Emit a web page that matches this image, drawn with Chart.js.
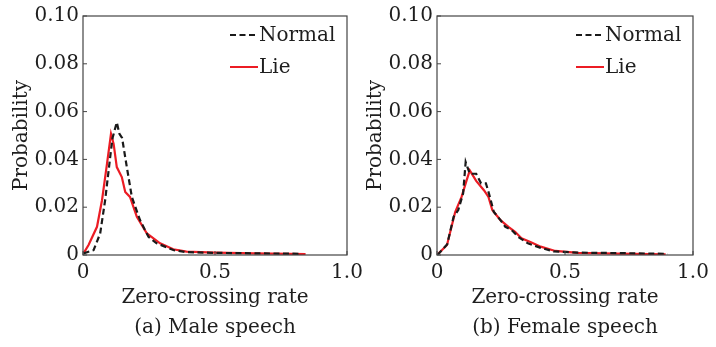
<!DOCTYPE html>
<html>
<head>
<meta charset="utf-8">
<script src="https://cdn.jsdelivr.net/npm/chart.js@4.4.1/dist/chart.umd.min.js"></script>
<style>
    html, body { margin: 0; padding: 0; background: #fff; }
    #wrap { position: relative; width: 716px; height: 347px; overflow: hidden; }
    canvas { position: absolute; top: 0; }
    #male_chart { left: 0; }
    #female_chart { left: 354px; }
</style>
</head>
<body>
<div id="wrap">
    <canvas id="male_chart" width="370" height="347"></canvas>
    <canvas id="female_chart" width="362" height="347"></canvas>
</div>
<script>
// ---------- data ----------
const xTicks = [0, 0.5, 1.0];
const yTicks = [0, 0.02, 0.04, 0.06, 0.08, 0.1];
const seriesNames = ["Normal", "Lie"];

// (a) male speech
const maleNormalX = [0.002, 0.04, 0.065, 0.084, 0.103, 0.112, 0.128, 0.138, 0.148, 0.166, 0.185, 0.216, 0.248, 0.279, 0.342, 0.39, 0.5, 0.65, 0.826];
const maleNormalY = [0.0007, 0.002, 0.009, 0.023, 0.041, 0.049, 0.0555, 0.0507, 0.049, 0.0368, 0.0243, 0.0146, 0.0076, 0.0049, 0.0021, 0.0012, 0.0009, 0.0007, 0.0005];
const maleLieX = [0.002, 0.021, 0.053, 0.072, 0.091, 0.106, 0.116, 0.128, 0.147, 0.16, 0.178, 0.204, 0.242, 0.292, 0.342, 0.392, 0.5, 0.65, 0.843];
const maleLieY = [0.0007, 0.0042, 0.0118, 0.0229, 0.0382, 0.0507, 0.0465, 0.0368, 0.0326, 0.0264, 0.0243, 0.016, 0.009, 0.0049, 0.0024, 0.0014, 0.001, 0.0007, 0.0004];

// (b) female speech
const femaleNormalX = [0.002, 0.04, 0.065, 0.083, 0.102, 0.112, 0.128, 0.153, 0.172, 0.191, 0.203, 0.222, 0.248, 0.267, 0.292, 0.317, 0.355, 0.405, 0.455, 0.55, 0.7, 0.9];
const femaleNormalY = [0, 0.0045, 0.016, 0.0188, 0.0257, 0.0389, 0.034, 0.034, 0.03, 0.03, 0.0257, 0.018, 0.0146, 0.0118, 0.0104, 0.0076, 0.0049, 0.003, 0.0015, 0.001, 0.0008, 0.0005];
const femaleLieX = [0.0, 0.039, 0.071, 0.096, 0.115, 0.128, 0.153, 0.184, 0.201, 0.216, 0.248, 0.279, 0.305, 0.33, 0.367, 0.405, 0.462, 0.55, 0.7, 0.893];
const femaleLieY = [0, 0.0042, 0.018, 0.0243, 0.031, 0.0354, 0.031, 0.027, 0.0243, 0.0188, 0.0146, 0.0118, 0.0097, 0.007, 0.0053, 0.0035, 0.0017, 0.0009, 0.0006, 0.0003];

const FONT = "'DejaVu Serif', serif";
const TEXT = "#1e1e1e";
const RED = "#ec1c24";
const BLACK = "#1a1a1a";

const toPoints = (xs, ys) => xs.map((x, i) => ({ x, y: ys[i] }));

// frame around plot + inward tick marks + legend inside top-right
const framePlugin = {
    id: "frame",
    afterDraw(chart) {
        const { ctx, chartArea: a, scales } = chart;
        ctx.save();
        ctx.strokeStyle = "#444";
        ctx.lineWidth = 1.2;
        ctx.strokeRect(a.left, a.top, a.right - a.left, a.bottom - a.top);

        ctx.lineWidth = 1;
        yTicks.forEach((v) => {
            const py = scales.y.getPixelForValue(v);
            ctx.beginPath();
            ctx.moveTo(a.left, py);
            ctx.lineTo(a.left + 4, py);
            ctx.stroke();
        });
        xTicks.forEach((v) => {
            const px = scales.x.getPixelForValue(v);
            ctx.beginPath();
            ctx.moveTo(px, a.bottom);
            ctx.lineTo(px, a.bottom - 4);
            ctx.stroke();
        });

        // legend
        const ds = chart.data.datasets;
        ctx.font = "20px " + FONT;
        ctx.textBaseline = "middle";
        ctx.fillStyle = TEXT;
        ds.forEach((d, i) => {
            const y = a.top + 19 + i * 32;
            ctx.strokeStyle = d.borderColor;
            ctx.lineWidth = 2;
            ctx.setLineDash(d.borderDash || []);
            ctx.beginPath();
            ctx.moveTo(a.right - 117, y);
            ctx.lineTo(a.right - 89, y);
            ctx.stroke();
            ctx.setLineDash([]);
            ctx.fillText(d.label, a.right - 88, y + 1);
        });
        ctx.restore();
    },
};

const buildChart = (el, caption, normalPts, liePts) =>
    new Chart(el, {
        type: "line",
        data: {
            datasets: [
                {
                    label: seriesNames[0],
                    data: normalPts,
                    borderColor: BLACK,
                    borderWidth: 2.2,
                    borderDash: [6, 3.5],
                    pointRadius: 0,
                    tension: 0,
                },
                {
                    label: seriesNames[1],
                    data: liePts,
                    borderColor: RED,
                    borderWidth: 2.2,
                    pointRadius: 0,
                    tension: 0,
                },
            ],
        },
        options: {
            responsive: false,
            animation: false,
            layout: { padding: { left: 0, right: 23, top: 15, bottom: 0 } },
            plugins: {
                legend: { display: false },
                tooltip: { enabled: false },
            },
            scales: {
                x: {
                    type: "linear",
                    min: 0,
                    max: 1,
                    afterBuildTicks: (s) => {
                        s.ticks = xTicks.map((v) => ({ value: v }));
                    },
                    afterFit: (s) => {
                        s.height = 92;
                    },
                    grid: { display: false, drawTicks: false },
                    border: { display: false },
                    ticks: {
                        padding: 6,
                        color: TEXT,
                        font: { family: FONT, size: 20 },
                        callback: (v) => (v === 0 ? "0" : v.toFixed(1)),
                    },
                    title: {
                        display: true,
                        // axis title plus the panel caption underneath it
                        text: ["Zero-crossing rate", caption],
                        color: TEXT,
                        font: { family: FONT, size: 20, lineHeight: 1.5 },
                        padding: { top: 0, bottom: 4 },
                    },
                },
                y: {
                    min: 0,
                    max: 0.1,
                    afterBuildTicks: (s) => {
                        s.ticks = yTicks.map((v) => ({ value: v }));
                    },
                    afterFit: (s) => {
                        s.width = 83;
                    },
                    grid: { display: false, drawTicks: false },
                    border: { display: false },
                    ticks: {
                        padding: 4,
                        color: TEXT,
                        font: { family: FONT, size: 20 },
                        callback: (v) => (v === 0 ? "0" : v.toFixed(2)),
                    },
                    title: {
                        display: true,
                        text: "Probability",
                        color: TEXT,
                        font: { family: FONT, size: 20 },
                        padding: { top: 10, bottom: 0 },
                    },
                },
            },
        },
        plugins: [framePlugin],
    });

buildChart(
    document.getElementById("male_chart"),
    "(a) Male speech",
    toPoints(maleNormalX, maleNormalY),
    toPoints(maleLieX, maleLieY)
);
buildChart(
    document.getElementById("female_chart"),
    "(b) Female speech",
    toPoints(femaleNormalX, femaleNormalY),
    toPoints(femaleLieX, femaleLieY)
);
</script>
</body>
</html>
